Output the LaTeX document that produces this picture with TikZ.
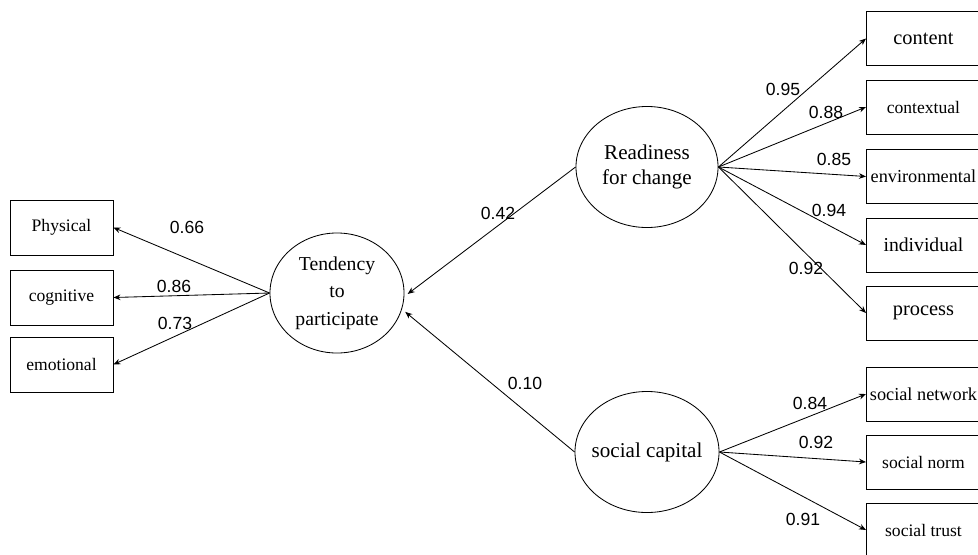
\documentclass[tikz,border=0pt]{standalone}
\usepackage{fontspec}
\setmainfont{Liberation Serif}
\newfontfamily\numfont{Liberation Sans}
\usetikzlibrary{arrows.meta,shapes.geometric}
\newcommand{\fs}[1]{\fontsize{#1}{18}\selectfont}
\tikzset{ind box/.style={draw, rectangle, minimum width=2.575cm, minimum height=1.375cm, inner sep=0pt, font=\fs{12.5}}}
\tikzset{ind box r/.style={ind box, minimum width=2.85cm, minimum height=1.35cm, anchor=west}}
\tikzset{latent/.style={draw, ellipse, inner sep=0pt, align=center, font=\fs{14.5}}}
\tikzset{load/.style={inner sep=0pt, font=\numfont\fontsize{12.5}{15}\selectfont}}

\begin{document}
\begin{tikzpicture}[->,>={Stealth[length=5pt,width=4pt]},x=0.025cm,y=-0.025cm,
                    line width=0.6pt]
  \useasboundingbox (0,0) rectangle (978,554);
  \clip (0,0) rectangle (978,554);
  % latent variables
  \node[latent, minimum width=3.35cm, minimum height=3cm, font=\fontsize{14}{19.5}\selectfont] at (337,293) (tend) {Tendency\\to\\participate};
  \node[latent, minimum width=3.55cm, minimum height=3.025cm, font=\fontsize{15}{18}\selectfont] at (647,167) (read) {Readiness\\for change};
  \node[latent, minimum width=3.6cm, minimum height=3.025cm, inner xsep=-8pt, font=\fs{15}] at (647,452) (soc) {social capital};
  % indicators, left
  \node[ind box] at (61.5,227.5) (phys) {Physical};
  \node[ind box] at (61.5,297.5) (cogn) {cognitive};
  \node[ind box] at (61.5,364.5) (emot) {emotional};
  % indicators, right
  \node[ind box r, font=\fs{14.5}] at (866,38.5) (cont) {content};
  \node[ind box r] at (866,107) (ctxt) {contextual};
  \node[ind box r, font=\fs{13}] at (866,176.5) (env) {environmental};
  \node[ind box r, font=\fs{14}] at (866,245) (indiv) {individual};
  \node[ind box r, font=\fs{14.5}] at (866,313) (proc) {process};
  \node[ind box r, font=\fs{13}] at (866,394) (snet) {social network};
  \node[ind box r] at (866,462) (snorm) {social norm};
  \node[ind box r] at (866,530) (strust) {social trust};
  % paths
  \path (tend.west) edge (phys.east);
  \path (tend.west) edge (cogn.east);
  \path (tend.west) edge (emot.east);
  \path (read.west) edge[shorten >=3pt] (tend.-3);
  \path (soc.west) edge[shorten >=3pt] (tend.-14);
  \path (read.east) edge (cont.west);
  \path (read.east) edge (ctxt.west);
  \path (read.east) edge (env.west);
  \path (read.east) edge (indiv.west);
  \path (read.east) edge (proc.west);
  \path (soc.east) edge (snet.west);
  \path (soc.east) edge (snorm.west);
  \path (soc.east) edge (strust.west);
  % loadings
  \node[load] at (187,227) (l_phys) {0.66};
  \node[load] at (174,286) (l_cogn) {0.86};
  \node[load] at (175,323) (l_emot) {0.73};
  \node[load] at (498,213) (l_read) {0.42};
  \node[load] at (525,383) (l_soc) {0.10};
  \node[load] at (783,89) (l_cont) {0.95};
  \node[load] at (826,112) (l_ctxt) {0.88};
  \node[load] at (834,159) (l_env) {0.85};
  \node[load] at (829,210) (l_indiv) {0.94};
  \node[load] at (806,268) (l_proc) {0.92};
  \node[load] at (810,403) (l_snet) {0.84};
  \node[load] at (816,442) (l_snorm) {0.92};
  \node[load] at (803,519) (l_strust) {0.91};
\end{tikzpicture}
\end{document}
